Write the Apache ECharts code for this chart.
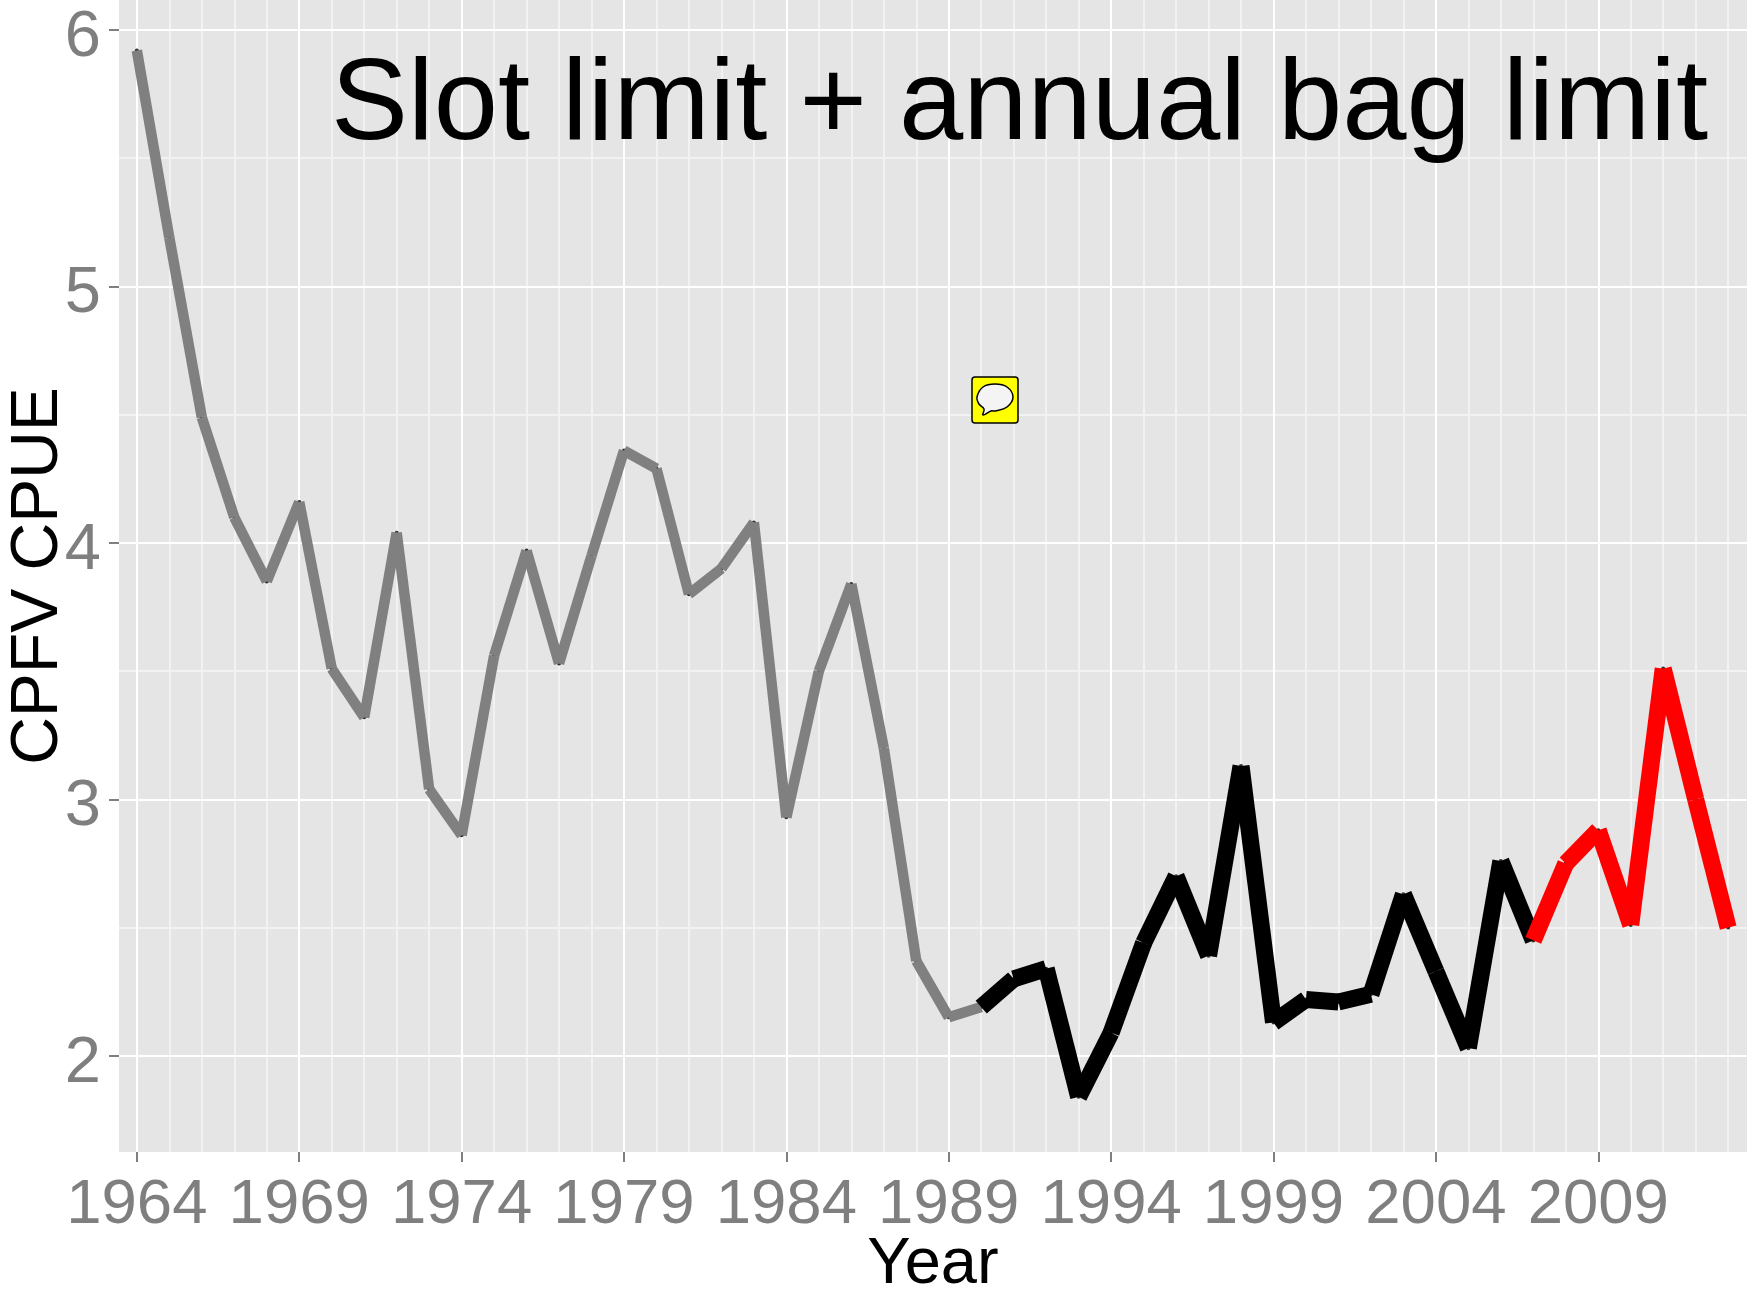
<!DOCTYPE html>
<html><head><meta charset="utf-8">
<style>html,body{margin:0;padding:0;background:#fff}#c{width:1747px;height:1291px}</style>
<script src="https://cdn.jsdelivr.net/npm/echarts@6/dist/echarts.min.js"></script>
</head><body><div id="c"></div>
<script>
const titleText = 'Slot limit + annual bag limit';
const xName = 'Year', yName = 'CPFV CPUE';
const years = [1964,1965,1966,1967,1968,1969,1970,1971,1972,1973,1974,1975,1976,1977,1978,1979,1980,1981,1982,1983,1984,1985,1986,1987,1988,1989,1990,1991,1992,1993,1994,1995,1996,1997,1998,1999,2000,2001,2002,2003,2004,2005,2006,2007,2008,2009,2010,2011,2012,2013];
const cpue = [5.92,5.19,4.49,4.10,3.85,4.16,3.51,3.32,4.04,3.04,2.86,3.56,3.97,3.53,3.95,4.36,4.29,3.80,3.90,4.08,2.93,3.50,3.84,3.20,2.37,2.15,2.19,2.30,2.34,1.84,2.09,2.44,2.70,2.39,3.13,2.13,2.22,2.21,2.24,2.63,2.33,2.03,2.76,2.45,2.75,2.88,2.51,3.51,3.00,2.50];
const xMajor = [1964,1969,1974,1979,1984,1989,1994,1999,2004,2009];
const yMajor = [2,3,4,5,6];
const yMinor = [2.5,3.5,4.5,5.5];
const phaseEnds = [1990, 2007, 2013];
const phaseColors = ['#808080','#000000','#ff0000'];
const phaseWidths = [10.5, 17, 17];

function phaseOf(y){ return phaseEnds.findIndex(e => y < e); }
const segs = [{type:'scatter', silent:true, symbolSize:4, z:4, itemStyle:{color:'#000'},
  data:years.map((y,i)=>[y,cpue[i]])}];
for (let i = 0; i < years.length - 1; i++) {
  const p = phaseOf(years[i]);
  segs.push({type:'line', xAxisIndex:0, yAxisIndex:0, silent:true, symbol:'none', z:5+p,
    data:[[years[i],cpue[i]],[years[i+1],cpue[i+1]]],
    lineStyle:{color:phaseColors[p], width:phaseWidths[p], cap:'butt', join:'miter'}});
}
const GL = {left:119, top:0, right:0, bottom:139, outerBoundsMode:'none'};
const xR = {type:'value', min:1963.45, max:2013.58};
const yR = {type:'value', min:1.625, max:6.117};
const chart = echarts.init(document.getElementById('c'), null, {renderer:'canvas'});
chart.setOption({
  animation:false,
  backgroundColor:'#fff',
  textStyle:{fontFamily:'Liberation Sans'},
  title:{text:titleText, right:34, top:44, textStyle:{fontFamily:'Liberation Sans', fontSize:115.5, fontWeight:'normal', color:'#000'}},
  grid:{...GL, show:true, backgroundColor:'#E5E5E5', borderWidth:0, containLabel:false},
  xAxis:[
    {...xR, position:'bottom', name:xName, nameLocation:'middle', nameGap:81, nameMoveOverlap:false,
     nameTextStyle:{fontSize:65,color:'#000'},
     axisLine:{show:false},
     axisTick:{show:true,length:10,lineStyle:{color:'#7F7F7F',width:2},customValues:xMajor},
     axisLabel:{show:true,fontSize:63.5,color:'#7F7F7F',margin:21,customValues:xMajor,formatter:v=>String(v),hideOverlap:false,showMinLabel:true,showMaxLabel:true},
     splitLine:{show:true,lineStyle:{color:'#fff',width:2}}, z:2},
    {...xR, position:'bottom', axisLine:{show:false},
     axisTick:{show:false,customValues:years}, axisLabel:{show:false},
     splitLine:{show:true,lineStyle:{color:'#F2F2F2',width:2}}, z:1}
  ],
  yAxis:[
    {...yR, name:yName, nameLocation:'middle', nameGap:47, nameMoveOverlap:false, nameRotate:90,
     nameTextStyle:{fontSize:66,color:'#000'},
     axisLine:{show:false},
     axisTick:{show:true,length:10,lineStyle:{color:'#7F7F7F',width:2},customValues:yMajor},
     axisLabel:{show:true,margin:18,customValues:yMajor,formatter:v=>'{t|'+v+'}',
       rich:{t:{fontSize:65,color:'#7F7F7F',fontFamily:'Liberation Sans',padding:[16,0,0,0]}}},
     splitLine:{show:true,lineStyle:{color:'#fff',width:2}}, z:2},
    {...yR, axisLine:{show:false},
     axisTick:{show:false,customValues:yMinor}, axisLabel:{show:false},
     splitLine:{show:true,lineStyle:{color:'#F2F2F2',width:2}}, z:1}
  ],
  series:segs,
  graphic:[
    {type:'rect', z:100, shape:{x:972,y:377,width:46,height:46,r:3}, style:{fill:'#ffff00',stroke:'#000',lineWidth:1.5}},
    {type:'polygon', z:101, shape:{smooth:0.4, points:[[995,384],[1007,387],[1013,397],[1007,407],[995,411],[991,411],[983,415],[984,409],[979,404],[977,397],[983,387]]}, style:{fill:'#f4f4f4',stroke:'#000',lineWidth:1.5}}
  ]
});
</script></body></html>
